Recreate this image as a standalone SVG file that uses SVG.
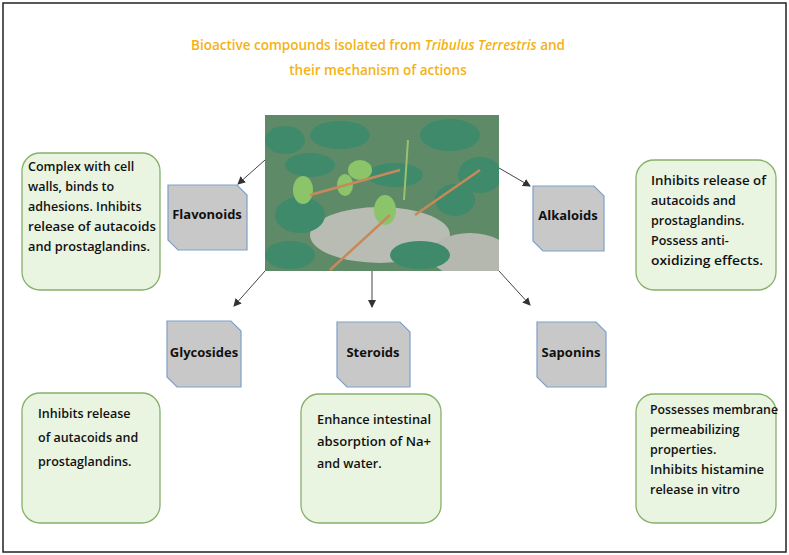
<svg xmlns="http://www.w3.org/2000/svg" width="789" height="555" viewBox="0 0 789 555">
<defs>
<style>
.t{font-family:"Open Sans","Liberation Sans",sans-serif;font-size:12.5px;font-weight:600;fill:#111}
.n{font-family:"Open Sans","Liberation Sans",sans-serif;font-size:13px;font-weight:bold;fill:#111}
.tb{fill:#e9f4e1;stroke:#86b06a;stroke-width:1.3}
.nd{fill:#c8c8c8;stroke:#7ea1c8;stroke-width:1.2}
.ttl{font-family:"Open Sans","Liberation Sans",sans-serif;font-size:13.5px;font-weight:600;fill:#f5b212}
.c{stroke:#444;stroke-width:1;fill:none}
.lf{fill:#3f8a6a}
.lf2{fill:#8cc46a}
</style>
<marker id="a" markerWidth="8" markerHeight="8" refX="7" refY="4" orient="auto" markerUnits="userSpaceOnUse"><path d="M0,0 L8,4 L0,8 Z" fill="#333"/></marker>
<clipPath id="pc"><rect x="265" y="115" width="234" height="156"/></clipPath>
</defs>
<rect x="3" y="3" width="783" height="549" fill="#fff" stroke="#222" stroke-width="1.5"/>
<text class="ttl" x="378" y="50" text-anchor="middle">Bioactive compounds isolated  from <tspan font-style="italic">Tribulus Terrestris</tspan> and</text>
<text class="ttl" x="378" y="75" text-anchor="middle">their mechanism of actions</text>
<g id="photo" clip-path="url(#pc)">
<rect x="265" y="115" width="234" height="156" fill="#5f8a68"/>
<ellipse cx="380" cy="235" rx="70" ry="28" fill="#b9bcb3"/>
<ellipse cx="470" cy="255" rx="40" ry="22" fill="#b5b8ae"/>
<g class="lf">
<ellipse cx="285" cy="140" rx="20" ry="14"/><ellipse cx="340" cy="135" rx="30" ry="14"/><ellipse cx="310" cy="165" rx="25" ry="12"/>
<ellipse cx="450" cy="135" rx="30" ry="16"/><ellipse cx="480" cy="175" rx="22" ry="18"/><ellipse cx="300" cy="215" rx="25" ry="18"/>
<ellipse cx="290" cy="255" rx="25" ry="14"/><ellipse cx="420" cy="255" rx="30" ry="14"/><ellipse cx="455" cy="200" rx="20" ry="16"/>
<ellipse cx="395" cy="175" rx="28" ry="12"/></g>
<g class="lf2"><ellipse cx="360" cy="170" rx="12" ry="10"/><ellipse cx="303" cy="190" rx="10" ry="14"/><ellipse cx="385" cy="210" rx="11" ry="15"/><ellipse cx="345" cy="185" rx="8" ry="11"/></g>
<path d="M310,195 L400,170 M415,215 L480,170 M330,270 L390,215" stroke="#c8895a" stroke-width="2.5" fill="none"/>
<path d="M404,200 L408,140" stroke="#9cc070" stroke-width="2" fill="none"/>
</g>
<g id="connectors">
<line class="c" x1="265" y1="160" x2="238" y2="184" marker-end="url(#a)"/>
<line class="c" x1="499" y1="168" x2="530" y2="186" marker-end="url(#a)"/>
<line class="c" x1="265" y1="271" x2="234" y2="306" marker-end="url(#a)"/>
<line class="c" x1="372" y1="271" x2="372" y2="307" marker-end="url(#a)"/>
<line class="c" x1="499" y1="271" x2="530" y2="305" marker-end="url(#a)"/>
</g>
<g id="flavonoids"><path class="nd" d="M168,185 H237 L247,195 V250 H178 L168,240 Z"/><text class="n" x="207" y="219" text-anchor="middle">Flavonoids</text></g>
<g id="alkaloids"><path class="nd" d="M533,186 H594 L604,196 V251 H543 L533,241 Z"/><text class="n" x="568" y="220" text-anchor="middle">Alkaloids</text></g>
<g id="glycosides"><path class="nd" d="M167,321 H231 L241,331 V387 H177 L167,377 Z"/><text class="n" x="204" y="357" text-anchor="middle">Glycosides</text></g>
<g id="steroids"><path class="nd" d="M337,322 H400 L410,332 V387 H347 L337,377 Z"/><text class="n" x="373" y="357" text-anchor="middle">Steroids</text></g>
<g id="saponins"><path class="nd" d="M537,322 H596 L606,332 V387 H547 L537,377 Z"/><text class="n" x="571" y="357" text-anchor="middle">Saponins</text></g>
<g id="box-flav"><rect class="tb" x="22" y="153" width="138" height="137" rx="18"/>
<text class="t" x="28" y="171">Complex with cell</text><text class="t" x="28" y="191">walls, binds to</text><text class="t" x="28" y="211">adhesions. Inhibits</text><text class="t" x="28" y="231" textLength="128" lengthAdjust="spacingAndGlyphs">release of autacoids</text><text class="t" x="28" y="251" textLength="122" lengthAdjust="spacingAndGlyphs">and prostaglandins.</text></g>
<g id="box-alk"><rect class="tb" x="636" y="160" width="140" height="130" rx="18"/>
<text class="t" x="651" y="185" textLength="115" lengthAdjust="spacingAndGlyphs">Inhibits release of</text><text class="t" x="651" y="205">autacoids and</text><text class="t" x="651" y="225">prostaglandins.</text><text class="t" x="651" y="245">Possess anti-</text><text class="t" x="651" y="265" textLength="112" lengthAdjust="spacingAndGlyphs">oxidizing effects.</text></g>
<g id="box-gly"><rect class="tb" x="22" y="393" width="138" height="130" rx="18"/>
<text class="t" x="38" y="418">Inhibits release</text><text class="t" x="38" y="442">of autacoids and</text><text class="t" x="38" y="466">prostaglandins.</text></g>
<g id="box-ste"><rect class="tb" x="301" y="394" width="140" height="129" rx="18"/>
<text class="t" x="317" y="424" textLength="114" lengthAdjust="spacingAndGlyphs">Enhance intestinal</text><text class="t" x="317" y="446" textLength="114" lengthAdjust="spacingAndGlyphs">absorption of Na+</text><text class="t" x="317" y="468">and water.</text></g>
<g id="box-sap"><rect class="tb" x="636" y="394" width="140" height="129" rx="18"/>
<text class="t" x="650" y="414" textLength="128" lengthAdjust="spacingAndGlyphs">Possesses membrane</text><text class="t" x="650" y="434">permeabilizing</text><text class="t" x="650" y="454">properties.</text><text class="t" x="650" y="474" textLength="114" lengthAdjust="spacingAndGlyphs">Inhibits histamine</text><text class="t" x="650" y="494">release in vitro</text></g>
</svg>
